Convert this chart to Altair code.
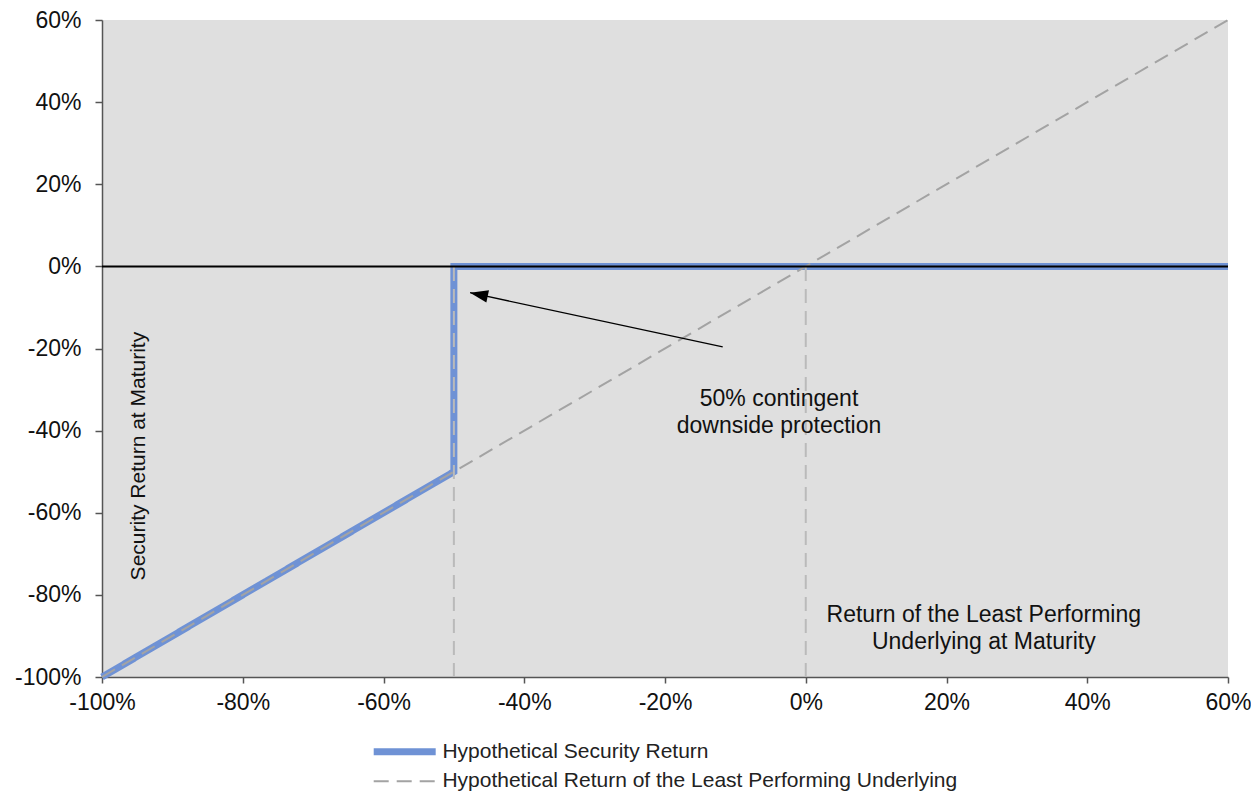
import altair as alt
import pandas as pd

# ---- data (percent units) ----
series_names = ["Hypothetical Security Return",
                "Hypothetical Return of the Least Performing Underlying"]
sec_x = [-100, -50, -50, 60]
sec_y = [-100, -50, 0, 0]
und_x = [-100, 60]
und_y = [-100, 60]
tick_values = [-100, -80, -60, -40, -20, 0, 20, 40, 60]
drop_x = [-50, 0]
drop_y = [-100, -100]
drop_y2 = [0, 0]
zero_y = [0]
arrow_tail = [-11.8, -19.6]
arrow_tip = [-47.7, -6.4]
note_text = [["50% contingent", "downside protection"],
             ["Return of the Least Performing", "Underlying at Maturity"]]
note_x = [-3.8, 25.3]
note_y = [-32.3, -84.9]
ylabel_text = ["Security Return at Maturity"]
ylabel_x = [-94.7]
ylabel_y = [-46.2]

BLUE = "#6f92d5"
GRAY = "#a3a3a3"
DROP = "#bababa"
FONT = "Liberation Sans"

lines = pd.DataFrame(
    [{"x": x, "y": y, "series": series_names[0], "i": k} for k, (x, y) in enumerate(zip(sec_x, sec_y))]
    + [{"x": x, "y": y, "series": series_names[1], "i": k} for k, (x, y) in enumerate(zip(und_x, und_y))]
)
drops = pd.DataFrame({"x": drop_x, "y": drop_y, "y2": drop_y2})
zero = pd.DataFrame({"y": zero_y})
arrow = pd.DataFrame({"x": [arrow_tail[0]], "y": [arrow_tail[1]],
                      "x2": [arrow_tip[0]], "y2": [arrow_tip[1]]})
notes = pd.DataFrame({"t": note_text, "x": note_x, "y": note_y})
ylab = pd.DataFrame({"t": ylabel_text, "x": ylabel_x, "y": ylabel_y})

xscale = alt.Scale(domain=[-100, 60], nice=False, zero=False)
yscale = alt.Scale(domain=[-100, 60], nice=False, zero=False)

xaxis = alt.Axis(values=tick_values, labelExpr="datum.value + '%'", title=None, grid=False,
                 domainColor="#555555", tickColor="#555555", domainWidth=1.5, tickWidth=1.5,
                 tickSize=6, labelFontSize=23, labelFont=FONT, labelColor="#111111",
                 labelPadding=8, labelFlush=False, labelOverlap=False)
yaxis = alt.Axis(values=tick_values, labelExpr="datum.value + '%'", title=None, grid=False,
                 domainColor="#555555", tickColor="#555555", domainWidth=1.5, tickWidth=1.5,
                 tickSize=7, labelFontSize=23, labelFont=FONT, labelColor="#111111",
                 labelPadding=14, labelFlush=False, labelOverlap=False)

leg = alt.Legend(title=None, orient="none", legendX=288.7, legendY=717.7, direction="vertical",
                 symbolType="M-3,0H3", symbolSize=427, labelOffset=23.7, labelFont=FONT,
                 labelFontSize=21, labelColor="#222222", rowPadding=4, padding=0,
                 labelLimit=1000)

enc_common = dict(
    x=alt.X("x:Q", scale=xscale, axis=xaxis),
    y=alt.Y("y:Q", scale=yscale, axis=yaxis),
    order=alt.Order("i:Q"),
    color=alt.Color("series:N", scale=alt.Scale(domain=series_names, range=[BLUE, GRAY]), legend=leg),
    strokeDash=alt.StrokeDash("series:N", scale=alt.Scale(domain=series_names, range=[[1, 0], [15, 8]]), legend=leg),
    strokeWidth=alt.StrokeWidth("series:N", scale=alt.Scale(type="ordinal", domain=series_names, range=[7, 2]), legend=leg),
)

blue_line = alt.Chart(lines).transform_filter(
    alt.datum.series == series_names[0]).mark_line().encode(**enc_common)
gray_line = alt.Chart(lines).transform_filter(
    alt.datum.series == series_names[1]).mark_line().encode(**enc_common)

drop_rules = alt.Chart(drops).mark_rule(color=DROP, strokeWidth=2, strokeDash=[14, 8]).encode(
    x="x:Q", y="y:Q", y2="y2:Q")
zero_rule = alt.Chart(zero).mark_rule(color="#000000", strokeWidth=2).encode(y="y:Q")
arrow_line = alt.Chart(arrow).mark_rule(color="#000000", strokeWidth=1.3).encode(
    x="x:Q", y="y:Q", x2="x2:Q", y2="y2:Q")
arrow_head = alt.Chart(arrow).mark_point(
    shape="M0,0L0.7,2L-0.7,2Z", filled=True, opacity=1, size=324, angle=282,
    color="#000000", strokeWidth=0).encode(x="x2:Q", y="y2:Q")
note_marks = alt.Chart(notes).mark_text(
    font=FONT, fontSize=23, color="#111111", align="center", baseline="middle",
    lineHeight=27).encode(x="x:Q", y="y:Q", text="t")
ylab_mark = alt.Chart(ylab).mark_text(
    font=FONT, fontSize=21, color="#111111", align="center", baseline="middle",
    angle=270).encode(x="x:Q", y="y:Q", text="t:N")

chart = alt.layer(
    blue_line, gray_line, drop_rules, zero_rule, arrow_line, arrow_head, note_marks, ylab_mark
).properties(
    width=1126, height=657,
    autosize=alt.AutoSizeParams(type="none"),
    padding={"left": 94, "top": 12, "right": 23, "bottom": 114},
    background="#ffffff",
).configure_view(stroke=None, fill="#dfdfdf")

chart.save("out.html", embed_options={"renderer": "svg", "actions": False})
